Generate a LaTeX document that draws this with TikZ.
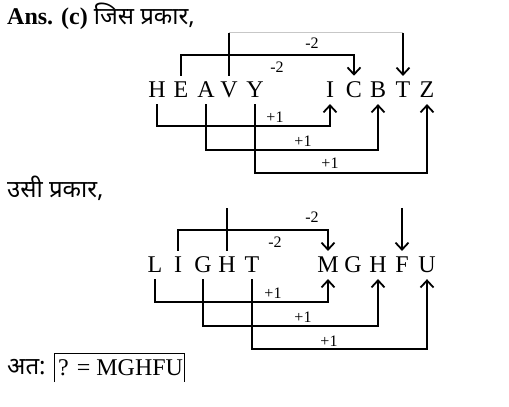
\documentclass[tikz,border=0pt]{standalone}
\usepackage{fontspec}
\setmainfont{Liberation Serif}
\newfontfamily\hindi[Script=Devanagari]{Noto Sans}
\usepackage{tikz}
\usetikzlibrary{arrows.meta}
\tikzset{
  letter/.style={inner xsep=0pt, inner ysep=6pt, font=\fontsize{24}{28}\selectfont},
  link/.style  ={line width=1.8pt, draw=black},
  linka/.style ={link, -{Straight Barb[length=7pt,width=13pt,line width=1.8pt]}},
  faint/.style ={line width=0.8pt, draw=black!22},
  lbl/.style   ={font=\fontsize{16}{18}\selectfont, inner sep=0pt},
  head/.style  ={anchor=base west, inner sep=0pt, font=\fontsize{24}{28}\selectfont}
}

\begin{document}
\begin{tikzpicture}[x=1pt, y=1pt]
  \useasboundingbox (0,0) rectangle (509,-407);

  % first example
  \node[head] (ans) at (7,-24) {\textbf{Ans. (c)} {\hindi जिस प्रकार,}};
  \node[letter] (hH) at (157,-90) {H};
  \node[letter] (hE) at (181,-90) {E};
  \node[letter] (hA) at (206,-90) {A};
  \node[letter] (hV) at (229,-90) {V};
  \node[letter] (hY) at (255,-90) {Y};
  \node[letter] (hI) at (330,-90) {I};
  \node[letter] (hC) at (354,-90) {C};
  \node[letter] (hB) at (378,-90) {B};
  \node[letter] (hT) at (403,-90) {T};
  \node[letter] (hZ) at (427,-90) {Z};

  \draw[link] (hV.north) -- ++(0,43) coordinate (hvtop);
  \draw[faint] (hvtop) -- (hvtop -| hT.north);
  \draw[linka] (hvtop -| hT.north) -- (hT.north);
  \draw[linka] (hE.north) -- ++(0,21) -| (hC.north);
  \draw[linka] (hH.south) -- ++(0,-22) -| (hI.south);
  \draw[linka] (hA.south) -- ++(0,-46) -| (hB.south);
  \draw[linka] (hY.south) -- ++(0,-69) -| (hZ.south);

  \node[lbl] (hm1) at (312,-43) {-2};
  \node[lbl] (hm2) at (277,-67) {-2};
  \node[lbl] (hp1) at (275,-117) {+1};
  \node[lbl] (hp2) at (303,-141) {+1};
  \node[lbl] (hp3) at (330,-163) {+1};

  % second example
  \node[head] (same) at (7,-197) {\hindi उसी प्रकार,};
  \node[letter] (lL)  at (155,-265) {L};
  \node[letter] (lI)  at (178,-265) {I};
  \node[letter] (lG)  at (203,-265) {G};
  \node[letter] (lH)  at (227,-265) {H};
  \node[letter] (lT)  at (252,-265) {T};
  \node[letter] (lM)  at (328,-265) {M};
  \node[letter] (lG2) at (353,-265) {G};
  \node[letter] (lH2) at (378,-265) {H};
  \node[letter] (lF)  at (402,-265) {F};
  \node[letter] (lU)  at (427,-265) {U};

  \draw[link] (lH.north) -- ++(0,43) coordinate (lhtop);
  \draw[linka] (lhtop -| lF.north) -- (lF.north);
  \draw[linka] (lI.north) -- ++(0,21) -| (lM.north);
  \draw[linka] (lL.south) -- ++(0,-23) -| (lM.south);
  \draw[linka] (lG.south) -- ++(0,-47) -| (lH2.south);
  \draw[linka] (lT.south) -- ++(0,-70) -| (lU.south);

  \node[lbl] (lm1) at (312,-217) {-2};
  \node[lbl] (lm2) at (275,-242) {-2};
  \node[lbl] (lp1) at (273,-293) {+1};
  \node[lbl] (lp2) at (303,-317) {+1};
  \node[lbl] (lp3) at (329,-341) {+1};

  % answer
  \node[head] (hence) at (7,-374) {\hindi अत:};
  \node[head] (res) at (58,-375) {? = MGHFU};
  \draw[line width=0.9pt] (54,-382) |- (184,-353) -- (184,-382);
\end{tikzpicture}
\end{document}
